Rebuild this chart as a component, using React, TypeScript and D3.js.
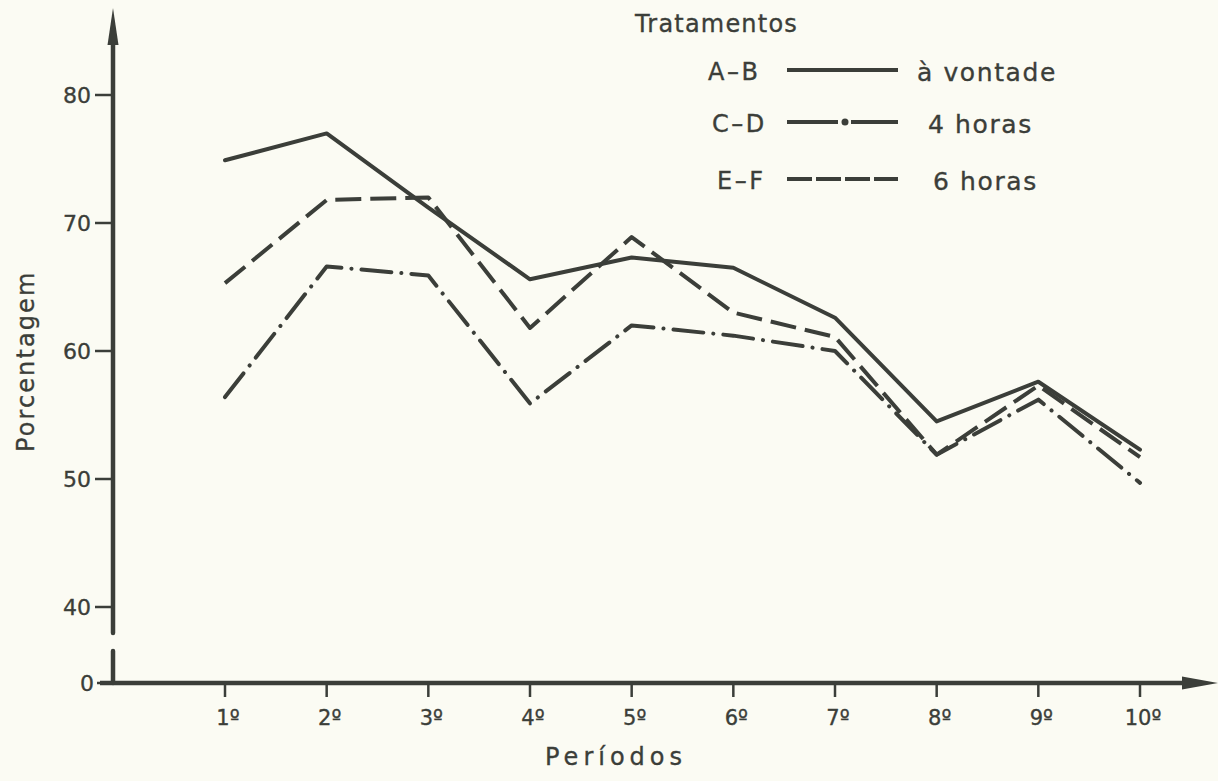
import React from "react";
import * as d3 from "d3";

const periods = ["1º", "2º", "3º", "4º", "5º", "6º", "7º", "8º", "9º", "10º"];
const serieAB = [74.9, 77.0, 71.2, 65.6, 67.3, 66.5, 62.6, 54.5, 57.6, 52.3];
const serieCD = [56.4, 66.6, 65.9, 55.9, 62.0, 61.2, 60.0, 51.9, 56.2, 49.7];
const serieEF = [65.3, 71.8, 72.0, 61.8, 68.9, 63.0, 61.1, 51.9, 57.3, 51.7];
const yTicks = [40, 50, 60, 70, 80];
const legendCodes = ["A–B", "C–D", "E–F"];
const legendNames = ["à vontade", "4 horas", "6 horas"];

const INK = "#3b3e39";
const BG = "#fbfbf3";
const FONT = "'DejaVu Sans', sans-serif";

export default function App() {
  const W = 1218;
  const H = 781;
  const axisX = 113;
  const baseY = 683;
  const y = d3.scaleLinear().domain([40, 80]).range([607, 95]);
  const x = d3.scalePoint<string>().domain(periods).range([225, 1140]);

  const line = d3
    .line<number>()
    .x((_, i) => x(periods[i]) as number)
    .y((d) => y(d));

  const series = [
    { data: serieAB, dash: undefined as string | undefined, cap: "round" },
    { data: serieCD, dash: "30 10 0.1 10", cap: "round" },
    { data: serieEF, dash: "26 9", cap: "butt" },
  ];

  const legendY = [70, 122, 179];
  const codeX = [708, 712, 717];
  const nameX = [917, 928, 933];
  const legendX0 = 787;
  const legendX1 = 898;
  const textStroke = { stroke: INK, strokeWidth: 0.35 };

  return (
    <svg
      width={W}
      height={H}
      style={{ position: "absolute", left: 0, top: 0, background: BG }}
      fontFamily={FONT}
    >
      <rect x={0} y={0} width={W} height={H} fill={BG} />

      {/* y axis upper segment with arrow */}
      <line x1={axisX} x2={axisX} y1={40} y2={633} stroke={INK} strokeWidth={4.5} strokeLinecap="round" />
      <path d={`M${axisX},8 L${axisX - 5.5},45 L${axisX + 5.5},45 Z`} fill={INK} />
      {/* y axis lower segment */}
      <line x1={axisX} x2={axisX} y1={651} y2={baseY} stroke={INK} strokeWidth={4.5} strokeLinecap="round" />

      {/* x axis with arrow */}
      <line x1={100} x2={1190} y1={baseY} y2={baseY} stroke={INK} strokeWidth={4.5} />
      <path d={`M1218,${baseY} L1182,${baseY - 6.5} L1182,${baseY + 6.5} Z`} fill={INK} />

      {/* y ticks */}
      {yTicks.map((t) => (
        <g key={t}>
          <line x1={95} x2={axisX} y1={y(t)} y2={y(t)} stroke={INK} strokeWidth={2.5} />
          <text x={91} y={y(t)} dy="0.36em" textAnchor="end" fontSize={22} fill={INK} {...textStroke}>
            {t}
          </text>
        </g>
      ))}
      <line x1={97} x2={axisX} y1={baseY} y2={baseY} stroke={INK} strokeWidth={2.5} />
      <text x={94} y={baseY} dy="0.36em" textAnchor="end" fontSize={22} fill={INK} {...textStroke}>
        0
      </text>

      {/* x ticks */}
      {periods.map((p) => (
        <g key={p}>
          <line x1={x(p)} x2={x(p)} y1={baseY} y2={697} stroke={INK} strokeWidth={2.5} />
          <text x={(x(p) as number) + 3} y={725} textAnchor="middle" fontSize={21} fill={INK} {...textStroke}>
            {p}
          </text>
        </g>
      ))}

      {/* axis titles */}
      <text x={545} y={765} fontSize={24} letterSpacing={5} fill={INK} {...textStroke}>
        Períodos
      </text>
      <text
        transform={`translate(34,452) rotate(-90)`}
        fontSize={24}
        letterSpacing={2.1}
        fill={INK}
        {...textStroke}
      >
        Porcentagem
      </text>

      {/* series */}
      {series.map((s, i) => (
        <path
          key={i}
          d={line(s.data) || ""}
          fill="none"
          stroke={INK}
          strokeWidth={4}
          strokeDasharray={s.dash}
          strokeLinecap={s.cap as any}
          strokeLinejoin="round"
        />
      ))}

      {/* legend */}
      <text x={635} y={32} fontSize={24} letterSpacing={1.2} fill={INK} {...textStroke}>
        Tratamentos
      </text>
      {legendCodes.map((c, i) => (
        <g key={c}>
          <text x={codeX[i]} y={legendY[i] + 10} fontSize={24} letterSpacing={2.5} fill={INK} {...textStroke}>
            {c}
          </text>
          <text x={nameX[i]} y={legendY[i] + 11} fontSize={25} letterSpacing={1.6} fill={INK} {...textStroke}>
            {legendNames[i]}
          </text>
        </g>
      ))}
      <line x1={legendX0} x2={legendX1} y1={legendY[0]} y2={legendY[0]} stroke={INK} strokeWidth={4} />
      <line x1={legendX0} x2={838} y1={legendY[1]} y2={legendY[1]} stroke={INK} strokeWidth={4} />
      <circle cx={845} cy={legendY[1]} r={3.5} fill={INK} />
      <line x1={851} x2={legendX1} y1={legendY[1]} y2={legendY[1]} stroke={INK} strokeWidth={4} />
      <line
        x1={legendX0}
        x2={legendX1}
        y1={legendY[2]}
        y2={legendY[2]}
        stroke={INK}
        strokeWidth={4}
        strokeDasharray="25 4"
      />
    </svg>
  );
}
